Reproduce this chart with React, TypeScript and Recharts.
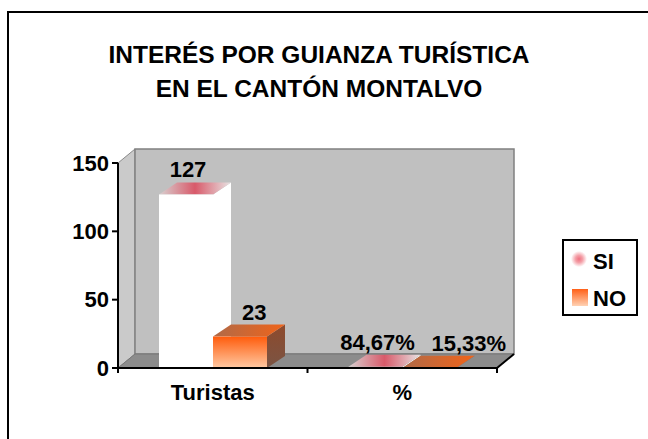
import { Bar, BarChart, LabelList, Legend, ReferenceArea, XAxis, YAxis } from "recharts";

const categories = ["Turistas", "%"];
const siValues = [127, 0.8467];
const noValues = [23, 0.1533];
const yTicks = [0, 50, 100, 150];

const data = categories.map((cat, i) => ({ cat, SI: siValues[i], NO: noValues[i] }));

const FONT = "'Liberation Sans', Arial, sans-serif";
// wall / floor depth
const DX = 17;
const DY = -14;
// bar depth
const BDX = 18;
const BDY = -12;

function Walls(props: any) {
  const { x, y, width, height } = props;
  const bx = x + DX;
  const by = y + DY;
  const bottom = y + height;
  const n = categories.length;
  const bounds = Array.from({ length: n + 1 }, (_, i) => x + (i * width) / n);
  return (
    <g>
      <defs>
        <linearGradient id="siTop" x1="0" y1="0" x2="1" y2="0">
          <stop offset="0%" stopColor="#d8d0d0" />
          <stop offset="50%" stopColor="#d85a6a" />
          <stop offset="100%" stopColor="#e8e4e4" />
        </linearGradient>
        <linearGradient id="noFront" x1="0" y1="0" x2="0" y2="1">
          <stop offset="0%" stopColor="#ff5c0c" />
          <stop offset="100%" stopColor="#ffcaa4" />
        </linearGradient>
        <linearGradient id="noSide" x1="0" y1="0" x2="0" y2="1">
          <stop offset="0%" stopColor="#8e4a2c" />
          <stop offset="100%" stopColor="#7a5444" />
        </linearGradient>
        <linearGradient id="noTop" x1="0" y1="0" x2="1" y2="0">
          <stop offset="0%" stopColor="#b06a48" />
          <stop offset="100%" stopColor="#f0641a" />
        </linearGradient>
      </defs>
      <polygon
        points={`${x},${y} ${bx},${by} ${bx},${bottom + DY} ${x},${bottom}`}
        fill="#cacaca"
        stroke="#8a8a8a"
      />
      <rect x={bx} y={by} width={width} height={height} fill="#c0c0c0" stroke="#808080" strokeWidth={1.5} />
      <polygon
        points={`${x},${bottom} ${bx},${bottom + DY} ${bx + width},${bottom + DY} ${x + width},${bottom}`}
        fill="#8c8c8c"
        stroke="#777777"
      />
      <line x1={x + width} y1={bottom} x2={bx + width} y2={bottom + DY} stroke="#000" strokeWidth={2} />
      {bounds.map((bxp, i) => (
        <line key={i} x1={bxp} y1={bottom} x2={bxp} y2={bottom + 5} stroke="#000" strokeWidth={2} />
      ))}
    </g>
  );
}

function makeBar(kind: "SI" | "NO") {
  return (props: any) => {
    const { x, y, width, height } = props;
    const w = width;
    const h = Math.max(height, 0);
    const front = kind === "SI" ? "#ffffff" : "url(#noFront)";
    const side = kind === "SI" ? "#ffffff" : "url(#noSide)";
    const top = kind === "SI" ? "url(#siTop)" : "url(#noTop)";
    return (
      <g>
        <polygon
          points={`${x + w},${y} ${x + w + BDX},${y + BDY} ${x + w + BDX},${y + h + BDY} ${x + w},${y + h}`}
          fill={side}
        />
        <polygon points={`${x},${y} ${x + BDX},${y + BDY} ${x + w + BDX},${y + BDY} ${x + w},${y}`} fill={top} />
        <rect x={x} y={y} width={w} height={h} fill={front} />
      </g>
    );
  };
}

function formatValue(index: number, value: number) {
  if (categories[index] === "%") return (value * 100).toFixed(2).replace(".", ",") + "%";
  return String(value);
}

function makeLabel(kind: "SI" | "NO") {
  return (props: any) => {
    const vb = props.viewBox || props;
    const x = Number(vb.x);
    const y = Number(vb.y);
    const w = Number(vb.width);
    const value = Number(props.value);
    const tx = kind === "SI" ? x + w / 2 + 2 : x + 29;
    return (
      <text
        x={tx}
        y={y - 17}
        textAnchor={kind === "SI" ? "middle" : "start"}
        fontFamily={FONT}
        fontWeight="bold"
        fontSize={22}
        fill="#000"
      >
        {formatValue(props.index, value)}
      </text>
    );
  };
}

function LegendBox() {
  return (
    <svg width={76} height={77} style={{ display: "block" }}>
      <defs>
        <radialGradient id="lgSi">
          <stop offset="0%" stopColor="#f07080" />
          <stop offset="45%" stopColor="#f4a0a8" />
          <stop offset="100%" stopColor="#ffffff" />
        </radialGradient>
        <linearGradient id="lgNo" x1="0" y1="0" x2="0" y2="1">
          <stop offset="0%" stopColor="#ff6018" />
          <stop offset="100%" stopColor="#ffd2b4" />
        </linearGradient>
      </defs>
      <rect x={1} y={1} width={74} height={75} fill="#fff" stroke="#000" strokeWidth={2} />
      <rect x={9} y={12} width={16} height={16} fill="url(#lgSi)" />
      <text x={31} y={30} fontFamily={FONT} fontWeight="bold" fontSize={22} fill="#000">
        SI
      </text>
      <rect x={10} y={50} width={16} height={17} fill="url(#lgNo)" />
      <text x={31} y={67} fontFamily={FONT} fontWeight="bold" fontSize={22} fill="#000">
        NO
      </text>
    </svg>
  );
}

export default function App() {
  return (
    <div
      style={{
        position: "absolute",
        left: 0,
        top: 0,
        width: 648,
        height: 439,
        overflow: "hidden",
        background: "#fff",
      }}
    >
      <div
        style={{
          position: "absolute",
          left: 7,
          top: 11,
          width: 700,
          height: 500,
          border: "2px solid #000",
        }}
      />
      <div
        style={{
          position: "absolute",
          left: 0,
          top: 38,
          width: 638,
          textAlign: "center",
          fontFamily: FONT,
          fontWeight: "bold",
          fontSize: 24.5,
          lineHeight: "34px",
          color: "#000",
        }}
      >
        INTERÉS POR GUIANZA TURÍSTICA
        <br />
        EN EL CANTÓN MONTALVO
      </div>
      <div style={{ position: "absolute", left: 0, top: 0 }}>
        <BarChart
          width={648}
          height={439}
          data={data}
          margin={{ top: 163, right: 151, bottom: 41, left: 58 }}
          barGap={0}
          barSize={54}
        >
          <ReferenceArea y1={0} y2={150} ifOverflow="visible" shape={Walls} />
          <XAxis
            dataKey="cat"
            height={30}
            tickLine={false}
            tickSize={0}
            tickMargin={16}
            axisLine={{ stroke: "#000", strokeWidth: 2 }}
            tick={{ fontFamily: FONT, fontWeight: "bold", fontSize: 22, fill: "#000" }}
          />
          <YAxis
            width={60}
            domain={[0, 150]}
            ticks={yTicks}
            tickSize={6}
            tickMargin={3}
            axisLine={{ stroke: "#000", strokeWidth: 2 }}
            tickLine={{ stroke: "#000", strokeWidth: 2 }}
            tick={{ fontFamily: FONT, fontWeight: "bold", fontSize: 22, fill: "#000" }}
          />
          <Legend
            layout="horizontal"
            verticalAlign="middle"
            align="center"
            wrapperStyle={{ left: 562, top: 239, right: "auto", bottom: "auto", width: 76, height: 77 }}
            content={() => <LegendBox />}
          />
          <Bar dataKey="SI" name="SI" fill="#ffffff" shape={makeBar("SI")} isAnimationActive={false}>
            <LabelList dataKey="SI" content={makeLabel("SI")} />
          </Bar>
          <Bar dataKey="NO" name="NO" fill="#ff6a1a" shape={makeBar("NO")} isAnimationActive={false}>
            <LabelList dataKey="NO" content={makeLabel("NO")} />
          </Bar>
        </BarChart>
      </div>
    </div>
  );
}
